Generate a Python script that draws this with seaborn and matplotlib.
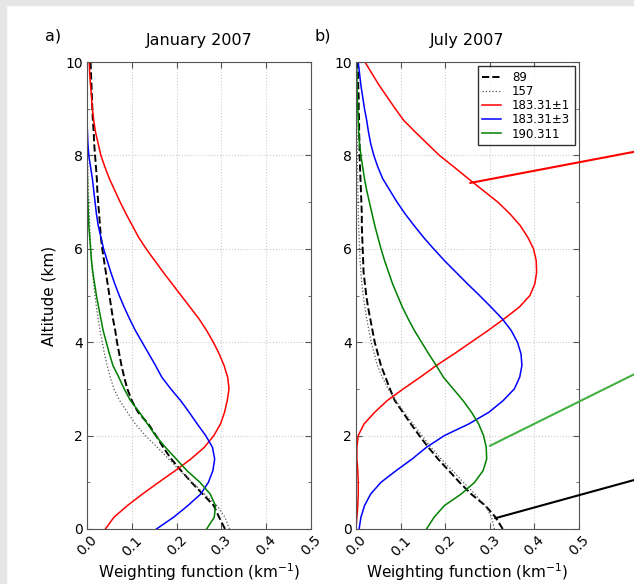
import pandas as pd
import matplotlib
matplotlib.use('Agg')
import matplotlib.pyplot as plt
import seaborn as sns
from matplotlib.patches import Rectangle

# altitude grid (km), passo de 0.25 km
altitude = [i * 0.25 for i in range(41)]

canais = ['89', '157', '183.31\u00b11', '183.31\u00b13', '190.311']

# janeiro 2007
jan_89 = [0.308, 0.295, 0.283, 0.258, 0.233, 0.21, 0.188, 0.17, 0.154, 0.137, 0.114, 0.1, 0.09, 0.083,
          0.077, 0.072, 0.067, 0.063, 0.058, 0.054, 0.05, 0.046, 0.042, 0.038, 0.034, 0.031, 0.029,
          0.027, 0.025, 0.023, 0.022, 0.02, 0.018, 0.016, 0.015, 0.013, 0.012, 0.011, 0.01, 0.009, 0.008]
jan_157 = [0.318, 0.308, 0.29, 0.262, 0.235, 0.208, 0.182, 0.157, 0.13, 0.108, 0.09, 0.073, 0.06, 0.052,
           0.045, 0.039, 0.034, 0.029, 0.025, 0.021, 0.018, 0.015, 0.012, 0.01, 0.009, 0.007, 0.006,
           0.005, 0.004, 0.003, 0.002, 0.002, 0.001, 0.001, 0.001, 0.0, 0.0, 0.0, 0.0, 0.0, 0.0]
jan_183_1 = [0.041, 0.06, 0.09, 0.124, 0.16, 0.197, 0.232, 0.262, 0.283, 0.298, 0.307, 0.313, 0.317, 0.314,
             0.306, 0.295, 0.282, 0.267, 0.25, 0.23, 0.21, 0.19, 0.17, 0.151, 0.132, 0.115, 0.101,
             0.087, 0.074, 0.062, 0.05, 0.04, 0.031, 0.025, 0.019, 0.015, 0.012, 0.01, 0.008, 0.006, 0.005]
jan_183_3 = [0.155, 0.193, 0.225, 0.254, 0.271, 0.281, 0.285, 0.28, 0.265, 0.246, 0.228, 0.209, 0.187, 0.167,
             0.153, 0.138, 0.123, 0.108, 0.095, 0.083, 0.072, 0.062, 0.053, 0.045, 0.037, 0.031, 0.025,
             0.021, 0.018, 0.015, 0.012, 0.008, 0.004, 0.002, 0.001, 0.0, 0.0, 0.0, 0.0, 0.0, 0.0]
jan_190 = [0.267, 0.284, 0.287, 0.275, 0.252, 0.223, 0.199, 0.175, 0.153, 0.135, 0.117, 0.097, 0.083, 0.071,
           0.058, 0.05, 0.043, 0.036, 0.031, 0.026, 0.021, 0.017, 0.013, 0.01, 0.008, 0.006, 0.004,
           0.003, 0.002, 0.001, 0.001, 0.0, 0.0, 0.0, 0.0, 0.0, 0.0, 0.0, 0.0, 0.0, 0.0]

# julho 2007
jul_89 = [0.329, 0.313, 0.29, 0.258, 0.232, 0.208, 0.184, 0.162, 0.142, 0.123, 0.105, 0.087, 0.076, 0.066,
          0.056, 0.049, 0.042, 0.037, 0.032, 0.027, 0.023, 0.02, 0.017, 0.016, 0.015, 0.014, 0.013,
          0.013, 0.012, 0.011, 0.01, 0.009, 0.008, 0.008, 0.007, 0.007, 0.006, 0.006, 0.005, 0.005, 0.004]
jul_157 = [0.31, 0.304, 0.29, 0.266, 0.241, 0.216, 0.191, 0.168, 0.148, 0.128, 0.108, 0.089, 0.072, 0.059,
           0.048, 0.041, 0.034, 0.029, 0.024, 0.02, 0.016, 0.013, 0.011, 0.009, 0.008, 0.007, 0.006,
           0.005, 0.005, 0.004, 0.004, 0.003, 0.003, 0.003, 0.002, 0.002, 0.002, 0.002, 0.001, 0.001, 0.001]
jul_183_1 = [0.0, 0.002, 0.004, 0.005, 0.005, 0.004, 0.002, 0.002, 0.005, 0.018, 0.042, 0.07, 0.106, 0.144,
             0.18, 0.22, 0.258, 0.296, 0.332, 0.366, 0.39, 0.401, 0.405, 0.404, 0.398, 0.385, 0.368,
             0.345, 0.318, 0.285, 0.252, 0.22, 0.187, 0.16, 0.133, 0.107, 0.088, 0.07, 0.052, 0.036, 0.02]
jul_183_3 = [0.007, 0.011, 0.019, 0.033, 0.056, 0.09, 0.126, 0.158, 0.198, 0.253, 0.298, 0.33, 0.355, 0.367,
             0.372, 0.37, 0.362, 0.348, 0.328, 0.303, 0.277, 0.25, 0.224, 0.198, 0.174, 0.151, 0.13,
             0.11, 0.092, 0.076, 0.06, 0.049, 0.04, 0.033, 0.028, 0.024, 0.019, 0.015, 0.011, 0.008, 0.005]
jul_190 = [0.158, 0.175, 0.198, 0.236, 0.266, 0.285, 0.293, 0.292, 0.286, 0.275, 0.259, 0.24, 0.218, 0.196,
           0.18, 0.163, 0.147, 0.131, 0.117, 0.104, 0.093, 0.082, 0.073, 0.064, 0.056, 0.049, 0.042,
           0.036, 0.03, 0.024, 0.019, 0.015, 0.011, 0.008, 0.006, 0.005, 0.004, 0.003, 0.002, 0.002, 0.001]

meses = {'January 2007': [jan_89, jan_157, jan_183_1, jan_183_3, jan_190],
         'July 2007': [jul_89, jul_157, jul_183_1, jul_183_3, jul_190]}

linhas = []
for mes, series in meses.items():
    for canal, vals in zip(canais, series):
        for a, v in zip(altitude, vals):
            linhas.append({'mes': mes, 'canal': canal, 'alt': a, 'wf': v})
df = pd.DataFrame(linhas)

estilo = {
    '89': dict(color='black', ls='--', lw=1.4),
    '157': dict(color='#555555', ls=':', lw=0.9),
    '183.31\u00b11': dict(color='red', ls='-', lw=1.1),
    '183.31\u00b13': dict(color='blue', ls='-', lw=1.1),
    '190.311': dict(color='green', ls='-', lw=1.1),
}

plt.rcParams['font.family'] = ['DejaVu Sans']
fig = plt.figure(figsize=(6.34, 5.84), dpi=100)
fig.patch.set_facecolor('white')
# faixa cinza da captura de tela
fig.patches.append(Rectangle((0, 1 - 5 / 584), 1, 5 / 584, transform=fig.transFigure, color='#e6e6e6', zorder=0))
fig.patches.append(Rectangle((0, 0), 6 / 634, 1, transform=fig.transFigure, color='#e6e6e6', zorder=0))

ax_a = fig.add_axes([87 / 634, 1 - 529 / 584, 224 / 634, 467 / 584])
ax_b = fig.add_axes([356 / 634, 1 - 529 / 584, 223 / 634, 467 / 584])

for ax, mes, letra in [(ax_a, 'January 2007', 'a)'), (ax_b, 'July 2007', 'b)')]:
    d = df[df.mes == mes]
    for canal in canais:
        s = estilo[canal]
        sns.lineplot(data=d[d.canal == canal], x='wf', y='alt', sort=False, estimator=None,
                     color=s['color'], linestyle=s['ls'], linewidth=s['lw'], ax=ax, label=canal)
    ax.set_xlim(0, 0.5)
    ax.set_ylim(0, 10)
    ax.set_xticks([0, 0.1, 0.2, 0.3, 0.4, 0.5])
    ax.set_xticklabels(['0.0', '0.1', '0.2', '0.3', '0.4', '0.5'], rotation=45)
    ax.set_yticks([0, 2, 4, 6, 8, 10])
    ax.set_yticks([1, 3, 5, 7, 9], minor=True)
    ax.tick_params(direction='in', top=True, right=True, labelsize=10, length=4, color='#555555', pad=3)
    ax.tick_params(which='minor', direction='in', right=True, left=True, length=2, color='#555555')
    ax.grid(True, color='#cccccc', linestyle=':', linewidth=0.8)
    for sp in ax.spines.values():
        sp.set_color('#555555')
    ax.set_xlabel('Weighting function (km$^{-1}$)', fontsize=11, labelpad=2)
    ax.set_ylabel('')
    ax.set_title(mes, fontsize=11.5, pad=12)
    ax.text(-0.15, 1.045, letra, transform=ax.transAxes, fontsize=11.5, ha='center')
    if ax is ax_a:
        ax.get_legend().remove()

ax_a.set_ylabel('Altitude (km)', fontsize=11)
ax_a.yaxis.set_label_coords(-0.135, 0.5)

leg = ax_b.legend(loc='upper right', fontsize=8.5, fancybox=False, edgecolor='black',
                  handlelength=1.6, handletextpad=0.9, borderaxespad=0.35, labelspacing=0.1)
leg.get_frame().set_linewidth(1.0)

# linhas de anotacao que saem do painel b
ax_b.annotate('', xy=(0.256, 7.41), xycoords='data', xytext=(1.0, 0.740), textcoords='figure fraction',
              arrowprops=dict(arrowstyle='-', color='red', lw=1.5, shrinkA=0, shrinkB=0))
ax_b.annotate('', xy=(0.30, 1.78), xycoords='data', xytext=(1.0, 0.359), textcoords='figure fraction',
              arrowprops=dict(arrowstyle='-', color='#44b044', lw=1.5, shrinkA=0, shrinkB=0))
ax_b.annotate('', xy=(0.312, 0.23), xycoords='data', xytext=(1.0, 0.178), textcoords='figure fraction',
              arrowprops=dict(arrowstyle='-', color='black', lw=1.5, shrinkA=0, shrinkB=0))

fig.savefig('out.png', dpi=100)
